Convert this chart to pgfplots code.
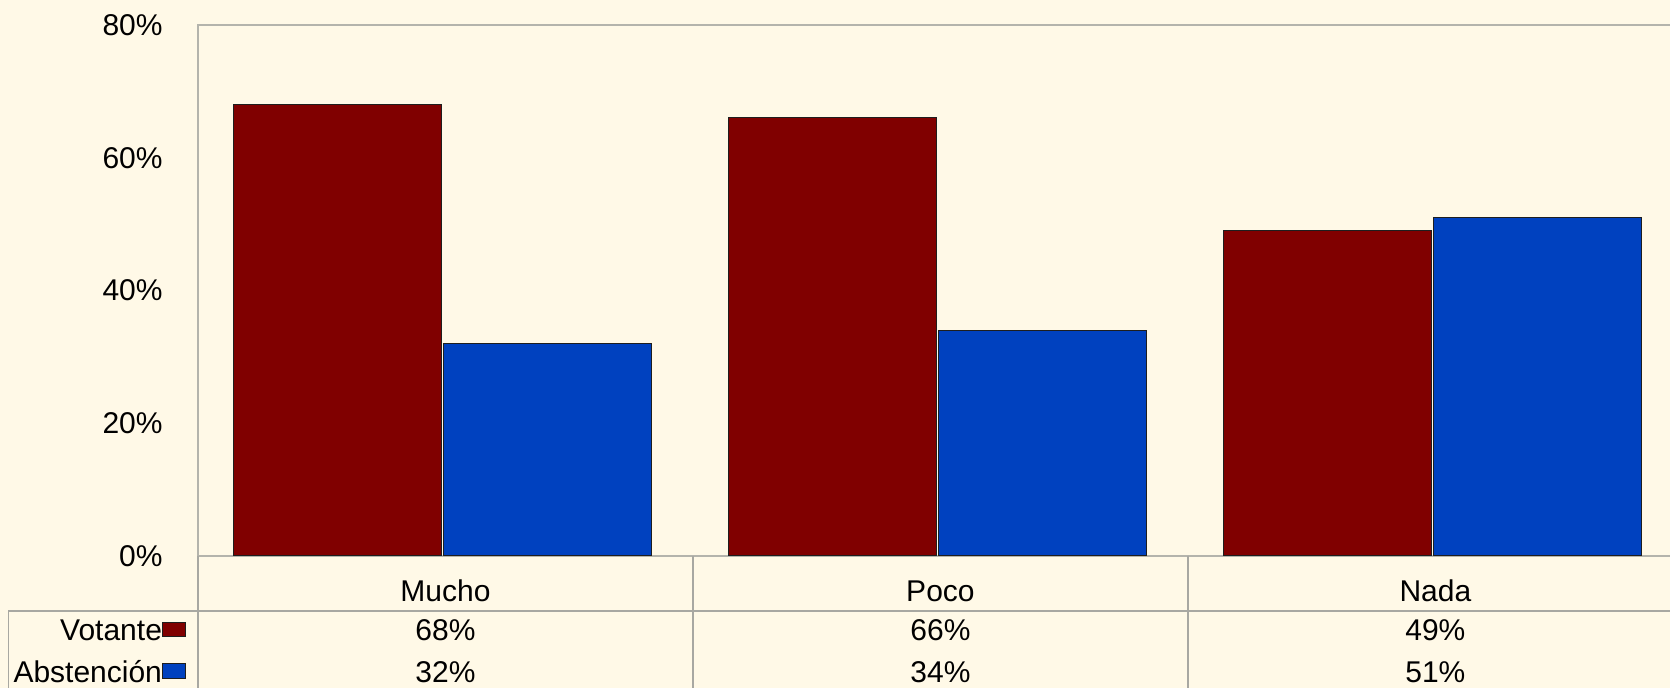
\documentclass[border=0pt]{standalone}
\usepackage{pgfplots}
\pgfplotsset{compat=1.18}
\usepackage{fontspec}
\setmainfont{Liberation Sans}
\usetikzlibrary{backgrounds}
\definecolor{bgc}{HTML}{FFF9E7}
\definecolor{votc}{HTML}{800000}
\definecolor{absc}{HTML}{0041BF}
\definecolor{edgec}{HTML}{1E1E1E}
\definecolor{framec}{HTML}{B4B4AC}
\definecolor{tablec}{HTML}{A8A8A2}
\begin{document}
\begin{tikzpicture}[font=\fontsize{15}{18}\selectfont]
\begin{axis}[
    scale only axis,
    width=742.5pt, height=265.5pt,
    ybar=1.2pt, bar width=104pt,
    xmin=-0.5, xmax=2.5, ymin=0, ymax=80,
    xtick=\empty,
    ytick={0,20,40,60,80},
    yticklabels={0\%,20\%,40\%,60\%,80\%},
    major tick length=0pt,
    yticklabel style={inner sep=0pt, xshift=-17.5pt},
    axis line style={draw=framec, line width=0.7pt},
    clip=false,
]
\addplot[fill=votc, draw=edgec, line width=0.5pt, bar shift=-54.2pt] coordinates {(0,68) (1,66) (2,49)};
\addplot[fill=absc, draw=edgec, line width=0.5pt, bar shift=51pt] coordinates {(0,32) (1,34) (2,51)};

% data table under the plot
\draw[tablec, line width=0.7pt] (axis cs:-0.5,0) -- (axis cs:-0.5,-20);
\draw[tablec, line width=0.7pt] (axis cs:0.5,0) -- (axis cs:0.5,-20);
\draw[tablec, line width=0.7pt] (axis cs:1.5,0) -- (axis cs:1.5,-20);
\draw[tablec, line width=0.7pt] (axis cs:-0.883,-20) -- (axis cs:-0.883,-8.29) -- (axis cs:2.6,-8.29);

\node[anchor=base, inner sep=0pt] at (axis cs:0,-6.93) {Mucho};
\node[anchor=base, inner sep=0pt] at (axis cs:1,-6.93) {Poco};
\node[anchor=base, inner sep=0pt] at (axis cs:2,-6.93) {Nada};

\node[anchor=base east, inner sep=0pt] at (axis cs:-0.572,-12.73) {Votante};
\node[anchor=base east, inner sep=0pt] at (axis cs:-0.572,-19.09) {Abstención};
\draw[fill=votc, draw=edgec, line width=0.5pt] (axis cs:-0.571,-10.03) rectangle (axis cs:-0.526,-12.08);
\draw[fill=absc, draw=edgec, line width=0.5pt] (axis cs:-0.571,-16.27) rectangle (axis cs:-0.526,-18.43);

\node[anchor=base, inner sep=0pt] at (axis cs:0,-12.73) {68\%};
\node[anchor=base, inner sep=0pt] at (axis cs:1,-12.73) {66\%};
\node[anchor=base, inner sep=0pt] at (axis cs:2,-12.73) {49\%};
\node[anchor=base, inner sep=0pt] at (axis cs:0,-19.09) {32\%};
\node[anchor=base, inner sep=0pt] at (axis cs:1,-19.09) {34\%};
\node[anchor=base, inner sep=0pt] at (axis cs:2,-19.09) {51\%};

\coordinate (bl) at (axis cs:-0.9,-19.89);
\coordinate (tr) at (axis cs:2.474,83.77);
\end{axis}
\begin{scope}[on background layer]
\fill[bgc] (bl) rectangle (tr);
\end{scope}
\pgfresetboundingbox
\useasboundingbox (bl) rectangle (tr);
\end{tikzpicture}
\end{document}
